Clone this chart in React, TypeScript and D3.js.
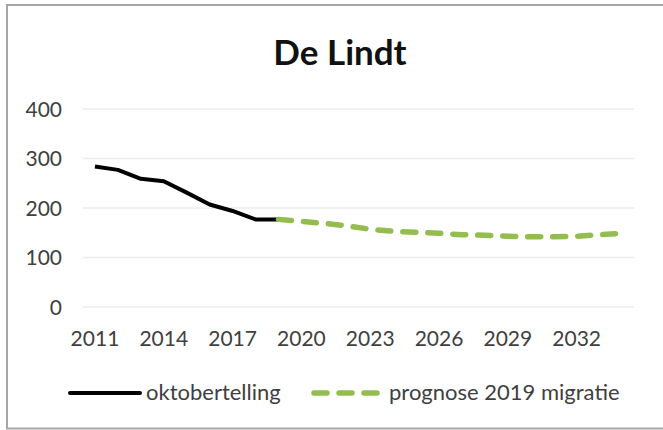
import React from "react";
import * as d3 from "d3";

const years = d3.range(2011, 2035);
const tickYears = [2011, 2014, 2017, 2020, 2023, 2026, 2029, 2032];
const yTicks = [0, 100, 200, 300, 400];

const oktoberYears = [2011, 2012, 2013, 2014, 2015, 2016, 2017, 2018, 2019];
const oktoberValues = [284, 277, 259, 254, 231, 207, 194, 177, 177];

const prognoseYears = [2019, 2020, 2021, 2022, 2023, 2024, 2025, 2026, 2027, 2028, 2029, 2030, 2031, 2032, 2033, 2034];
const prognoseValues = [177, 173, 169, 164, 157, 153, 151, 149, 146, 145, 143, 142, 142, 143, 146, 149];

const W = 663;
const H = 430;
const FONT = "Lato, 'Open Sans', sans-serif";

export default function App() {
  const x = d3.scalePoint<number>().domain(years).range([83.5, 634]).padding(0.5);
  const y = d3.scaleLinear().domain([0, 400]).range([307, 109]);

  const line = d3
    .line<[number, number]>()
    .x((d) => x(d[0]) as number)
    .y((d) => y(d[1]));

  const okto = oktoberYears.map((yr, i) => [yr, oktoberValues[i]] as [number, number]);
  const prog = prognoseYears.map((yr, i) => [yr, prognoseValues[i]] as [number, number]);

  return (
    <svg width={W} height={H} style={{ position: "absolute", left: 0, top: 0 }}>
      <rect x={0} y={0} width={W} height={H} fill="#ffffff" />
      <rect x={7} y={5} width={W + 10} height={423.5} fill="none" stroke="#a6a6a6" strokeWidth={2} />
      <text x={340} y={65} textAnchor="middle" fontFamily={FONT} fontWeight="bold" fontSize={35} fill="#111">
        De Lindt
      </text>
      {yTicks.map((t) => (
        <g key={t}>
          <line x1={83} x2={634} y1={y(t)} y2={y(t)} stroke="#ececec" strokeWidth={1.5} />
          <text x={62} y={y(t)} dy="0.36em" textAnchor="end" fontFamily={FONT} fontSize={21} fill="#404040">
            {t}
          </text>
        </g>
      ))}
      {tickYears.map((t) => (
        <text key={t} x={x(t)} y={346} textAnchor="middle" fontFamily={FONT} fontSize={21} fill="#404040">
          {t}
        </text>
      ))}
      <path d={line(okto) || ""} fill="none" stroke="#000" strokeWidth={4} strokeLinejoin="round" />
      <path
        d={line(prog) || ""}
        fill="none"
        stroke="#93bd4f"
        strokeWidth={5.5}
        strokeDasharray="13 12"
        strokeLinecap="round"
        strokeLinejoin="round"
      />
      <line x1={70} x2={140} y1={393} y2={393} stroke="#000" strokeWidth={4} strokeLinecap="round" />
      <text x={146} y={400} fontFamily={FONT} fontSize={22} fill="#404040">
        oktobertelling
      </text>
      <line
        x1={314}
        x2={380}
        y1={393}
        y2={393}
        stroke="#93bd4f"
        strokeWidth={5.5}
        strokeDasharray="13 12"
        strokeLinecap="round"
      />
      <text x={389} y={400} fontFamily={FONT} fontSize={22} fill="#404040">
        prognose 2019 migratie
      </text>
    </svg>
  );
}
